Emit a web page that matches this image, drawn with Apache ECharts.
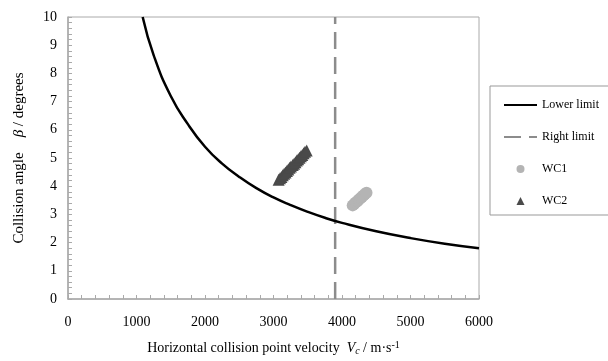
<!DOCTYPE html>
<html>
<head>
    <meta charset="utf-8">
    <title>ECharts</title>
    <script src="https://cdn.jsdelivr.net/npm/echarts/dist/echarts.min.js"></script>
</head>
<body style="margin:0">
    <div id="main" style="width: 608px;height:361px;"></div>
    <script>
        // lower limit curve
        var limitV = [1090, 1250, 1500, 1750, 2000, 2250, 2500, 2750, 3000, 3250, 3500, 3750, 4000, 4500, 5000, 5500, 6000];
        var limitB = [10, 8.65, 7.2, 6.2, 5.4, 4.8, 4.33, 3.93, 3.6, 3.33, 3.09, 2.88, 2.7, 2.4, 2.16, 1.96, 1.8];

        // right limit (vertical)
        var rightV = [3900, 3900];
        var rightB = [0, 10];

        var wc1V = [4156, 4178, 4200, 4223, 4245, 4268, 4290, 4313, 4335, 4358];
        var wc1B = [3.32, 3.37, 3.42, 3.47, 3.52, 3.57, 3.62, 3.67, 3.72, 3.77];

        var wc2V = [3075, 3095, 3115, 3135, 3155, 3175, 3195, 3215, 3235, 3255, 3280, 3300, 3320, 3340, 3360, 3380, 3400, 3420, 3440, 3460, 3485];
        var wc2B = [4.23, 4.28, 4.33, 4.39, 4.44, 4.49, 4.54, 4.59, 4.65, 4.70, 4.75, 4.80, 4.85, 4.91, 4.96, 5.01, 5.06, 5.11, 5.17, 5.22, 5.27];

        function pairs(xs, ys) {
            return xs.map(function (x, i) { return [x, ys[i]]; });
        }

        var font = 'Liberation Serif';
        var gray = '#aaaaaa';

        var chartDom = document.getElementById('main');
        var myChart = echarts.init(chartDom);
        var option = {
            animation: false,
            textStyle: { fontFamily: font },
            grid: {
                left: 68, right: 129, top: 17, bottom: 59,
                show: true, borderColor: gray, borderWidth: 1
            },
            legend: {
                orient: 'vertical',
                left: 490, top: 86,
                width: 100,
                padding: [13, 20, 8, 13],
                itemGap: 20,
                itemWidth: 33,
                itemHeight: 9,
                borderColor: '#999',
                borderWidth: 1,
                textStyle: { fontFamily: font, fontSize: 12, color: '#000' },
                data: [
                    // hide the dot that line series put in their legend icon
                    { name: 'Lower limit', itemStyle: { opacity: 0 } },
                    { name: 'Right limit', itemStyle: { opacity: 0 } },
                    { name: 'WC1', icon: 'path://M0,0M33,9M12.5,4.5a4,4 0 1,0 8,0a4,4 0 1,0 -8,0Z' },
                    // small triangle centred in the icon box (empty moves set the box)
                    { name: 'WC2', icon: 'path://M0,0M33,9M12.5,8.5L16.5,0.5L20.5,8.5Z' }
                ]
            },
            xAxis: {
                type: 'value',
                min: 0, max: 6000, interval: 1000,
                name: 'Horizontal collision point velocity  {i|V}{sub|c} / m·s{sup|-1}',
                nameLocation: 'middle',
                nameGap: 41,
                nameTextStyle: {
                    fontFamily: font, fontSize: 14, color: '#000',
                    rich: {
                        i: { fontFamily: font, fontStyle: 'italic', fontSize: 14, color: '#000' },
                        sub: { fontFamily: font, fontStyle: 'italic', fontSize: 10, verticalAlign: 'bottom', padding: [6, 0, 0, 0], color: '#000' },
                        sup: { fontFamily: font, fontSize: 10, verticalAlign: 'top', padding: [0, 0, 6, 0], color: '#000' }
                    }
                },
                axisLine: { lineStyle: { color: gray, width: 1.5 } },
                axisTick: { inside: true, length: 4, lineStyle: { color: gray } },
                minorTick: { show: true, splitNumber: 5, length: 4, lineStyle: { color: gray } },
                axisLabel: {
                    margin: 16, fontFamily: font, fontSize: 14, color: '#000',
                    formatter: function (v) { return String(v); }
                },
                splitLine: { show: false }
            },
            yAxis: {
                type: 'value',
                min: 0, max: 10, interval: 1,
                name: 'Collision angle    {i|β} / degrees',
                nameLocation: 'middle',
                nameGap: 41,
                nameTextStyle: {
                    fontFamily: font, fontSize: 15, color: '#000',
                    rich: {
                        i: { fontFamily: font, fontStyle: 'italic', fontSize: 15, color: '#000' }
                    }
                },
                axisLine: { lineStyle: { color: gray, width: 1.5 } },
                axisTick: { inside: true, length: 4, lineStyle: { color: gray } },
                minorTick: { show: true, splitNumber: 5, length: 4, lineStyle: { color: gray } },
                axisLabel: { margin: 11, fontFamily: font, fontSize: 14, color: '#000' },
                splitLine: { show: false }
            },
            series: [
                {
                    name: 'Lower limit',
                    type: 'line',
                    smooth: true,
                    symbol: 'none',
                    data: pairs(limitV, limitB),
                    lineStyle: { color: '#000', width: 2.5 },
                    itemStyle: { color: '#000' },
                    z: 3
                },
                {
                    name: 'Right limit',
                    type: 'line',
                    symbol: 'none',
                    data: pairs(rightV, rightB),
                    lineStyle: { color: '#8c8c8c', width: 2.5, type: [17, 8] },
                    itemStyle: { color: '#8c8c8c' },
                    z: 2
                },
                {
                    name: 'WC1',
                    type: 'scatter',
                    symbol: 'circle',
                    symbolSize: 12,
                    data: pairs(wc1V, wc1B),
                    itemStyle: { color: '#b4b4b4', opacity: 1 },
                    z: 4
                },
                {
                    name: 'WC2',
                    type: 'scatter',
                    symbol: 'triangle',
                    symbolSize: 12,
                    data: pairs(wc2V, wc2B),
                    itemStyle: { color: '#4a4a4a', opacity: 1 },
                    z: 4
                }
            ]
        };

        option && myChart.setOption(option);
    </script>
</body>
</html>
